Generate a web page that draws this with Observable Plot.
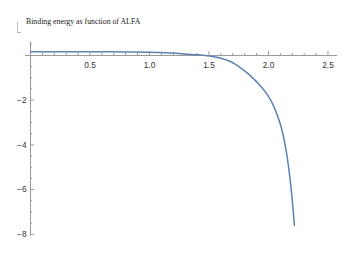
<!DOCTYPE html>
<html>
<head>
<meta charset="utf-8">
<script src="https://cdn.jsdelivr.net/npm/d3@7"></script>
<script src="https://cdn.jsdelivr.net/npm/@observablehq/plot@0.6"></script>
<style>
  html, body { margin: 0; padding: 0; background: #fff; }
  #wrap { position: relative; width: 354px; height: 258px; overflow: hidden; }
  #head { position: relative; height: 36px; }
  #title { position: absolute; left: 26px; top: 17px; font-family: "Liberation Serif", serif; font-size: 7.8px; line-height: 9px; color: #222; white-space: nowrap; }
  #bracket { position: absolute; left: 17px; top: 22px; width: 3px; height: 10px; border-left: 1px solid #bbb; border-bottom: 1px solid #bbb; }
  svg { display: block; }
</style>
</head>
<body>
<div id="wrap">
  <div id="head"><div id="bracket"></div><div id="title">Binding energy as function of ALFA</div></div>
  <div id="chart"></div>
</div>
<script>
const alfa   = [0, 0.2, 0.4, 0.6, 0.8, 1.0, 1.1, 1.2, 1.3, 1.4, 1.5, 1.6, 1.68, 1.765, 1.821, 1.876, 1.933, 1.989, 2.031, 2.073, 2.101, 2.124, 2.148, 2.168, 2.185, 2.20, 2.218];
const energy = [0.17, 0.17, 0.17, 0.165, 0.16, 0.15, 0.13, 0.11, 0.07, 0.03, -0.02, -0.12, -0.27, -0.55, -0.78, -1.05, -1.36, -1.74, -2.12, -2.66, -3.10, -3.58, -4.25, -4.95, -5.70, -6.50, -7.61];

const xMajor = [0.5, 1.0, 1.5, 2.0, 2.5];
const xMajorLabels = ["0.5", "1.0", "1.5", "2.0", "2.5"];
const yMajor = [-2, -4, -6, -8];
const yMajorLabels = ["−2", "−4", "−6", "−8"];
const xMinor = [0.1,0.2,0.3,0.4,0.6,0.7,0.8,0.9,1.1,1.2,1.3,1.4,1.6,1.7,1.8,1.9,2.1,2.2,2.3,2.4];
const yMinor = [0.5,-0.5,-1,-1.5,-2.5,-3,-3.5,-4.5,-5,-5.5,-6.5,-7,-7.5];

const xDomain = [0, 2.58];
const yDomain = [-8.1, 0.6];

const data = alfa.map((a, i) => ({alfa: a, energy: energy[i]}));
const axisColor = "#9a9a9a";
const labelColor = "#333";

const chart = Plot.plot({
  width: 354,
  height: 222,
  x: {domain: xDomain, range: [30, 337], axis: null},
  y: {domain: yDomain, range: [200, 5.6], axis: null},
  style: {fontFamily: "'Liberation Sans', Arial, sans-serif", fontSize: "8.3px", background: "white"},
  marks: [
    Plot.ruleY([0], {x1: xDomain[0], x2: xDomain[1], insetLeft: -5, stroke: axisColor, strokeWidth: 1}),
    Plot.ruleX([0], {y1: yDomain[0], y2: yDomain[1], stroke: axisColor, strokeWidth: 1}),
    Plot.ruleX(xMajor, {x: d => d, y1: 0, y2: 0, insetTop: -4, stroke: axisColor}),
    Plot.ruleX(xMinor, {x: d => d, y1: 0, y2: 0, insetTop: -2, stroke: axisColor}),
    Plot.ruleY(yMajor, {y: d => d, x1: 0, x2: 0, insetRight: -4, stroke: axisColor}),
    Plot.ruleY(yMinor, {y: d => d, x1: 0, x2: 0, insetRight: -2, stroke: axisColor}),
    Plot.text(xMajor, {x: d => d, y: 0, dy: 9.5, text: (d, i) => xMajorLabels[i], fill: labelColor}),
    Plot.text(yMajor, {x: 0, y: d => d, dx: -4, textAnchor: "end", text: (d, i) => yMajorLabels[i], fill: labelColor}),
    Plot.line(data, {x: "alfa", y: "energy", stroke: "#5E81B5", strokeWidth: 1.5, curve: "catmull-rom"})
  ]
});
document.getElementById("chart").appendChild(chart);
</script>
</body>
</html>
